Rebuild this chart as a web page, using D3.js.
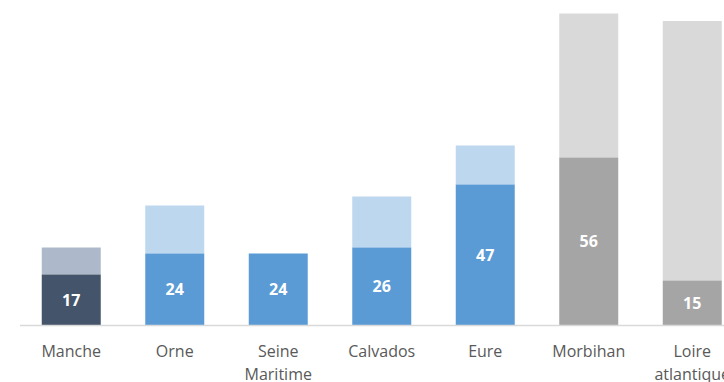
<!DOCTYPE html>
<html><head><meta charset="utf-8">
<script src="https://cdn.jsdelivr.net/npm/d3@7"></script>
<style>html,body{margin:0;padding:0;background:#fff;overflow:hidden}</style>
</head><body>
<svg id="chart" width="724" height="382"></svg>
<script>
const categories = [["Manche"], ["Orne"], ["Seine", "Maritime"], ["Calvados"], ["Eure"], ["Morbihan"], ["Loire", "atlantique"]];
const baseValues = [17, 24, 24, 26, 47, 56, 15];
const totalValues = [26, 40, 24, 43, 60, 104, 101.5];
const darkColors = ["#44546a", "#5b9bd5", "#5b9bd5", "#5b9bd5", "#5b9bd5", "#a5a5a5", "#a5a5a5"];
const lightColors = ["#adb9ca", "#bdd7ee", "#bdd7ee", "#bdd7ee", "#bdd7ee", "#d9d9d9", "#d9d9d9"];

const svg = d3.select("#chart");
const names = categories.map(c => c.join(" "));
const x = d3.scaleBand().domain(names).range([19.5, 744]).paddingInner(0.43).paddingOuter(0.215);
const y = d3.scaleLinear().domain([0, 108]).range([325.5, 1.5]);

const data = names.map((n, i) => ({n, lines: categories[i], base: baseValues[i], total: totalValues[i], dc: darkColors[i], lc: lightColors[i]}));

svg.selectAll("rect.top").data(data).join("rect").attr("class", "top")
  .attr("x", d => x(d.n)).attr("width", x.bandwidth())
  .attr("y", d => y(d.total)).attr("height", d => y(d.base) - y(d.total))
  .attr("fill", d => d.lc);
svg.selectAll("rect.base").data(data).join("rect").attr("class", "base")
  .attr("x", d => x(d.n)).attr("width", x.bandwidth())
  .attr("y", d => y(d.base)).attr("height", d => y(0) - y(d.base))
  .attr("fill", d => d.dc);

svg.append("line").attr("x1", 20).attr("x2", 724).attr("y1", y(0)).attr("y2", y(0))
  .attr("stroke", "#d9d9d9").attr("stroke-width", 1.5);

svg.selectAll("text.val").data(data).join("text").attr("class", "val")
  .attr("x", d => x(d.n) + x.bandwidth() / 2)
  .attr("y", d => (y(d.base) + y(0)) / 2)
  .attr("dy", "0.36em").attr("text-anchor", "middle")
  .attr("fill", "#fff").attr("font-weight", "bold")
  .attr("font-family", "'Open Sans', sans-serif").attr("font-size", 16)
  .text(d => d.base);

const lab = svg.selectAll("text.cat").data(data).join("text").attr("class", "cat")
  .attr("text-anchor", "middle").attr("fill", "#595959")
  .attr("font-family", "'Open Sans', sans-serif").attr("font-size", 16);
lab.selectAll("tspan").data(d => d.lines.map(l => ({l, cx: x(d.n) + x.bandwidth() / 2}))).join("tspan")
  .attr("x", t => t.cx).attr("y", (t, i) => 357 + i * 23).text(t => t.l);
</script>
</body></html>
